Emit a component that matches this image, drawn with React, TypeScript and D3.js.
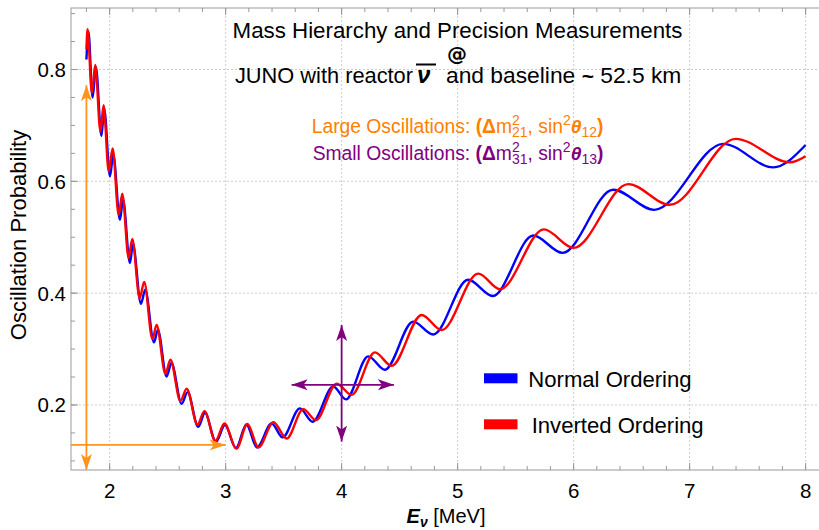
import React from 'react';
import * as d3 from 'd3';

// ---------- data ----------
// Normal Ordering: energy [MeV] and probability at extrema / key points
const NO_E = [1.80, 1.817, 1.853, 1.882, 1.929, 1.953, 2.003, 2.031, 2.089, 2.115, 2.175, 2.201, 2.270, 2.307, 2.382, 2.416, 2.491, 2.533, 2.621, 2.672, 2.764, 2.822, 2.916, 2.994, 3.089, 3.179, 3.270, 3.397, 3.491, 3.640, 3.750, 3.928, 4.037, 4.229, 4.373, 4.617, 4.790, 5.091, 5.302, 5.652, 5.905, 6.341, 6.695, 7.290, 7.721, 8.0];
const NO_P = [0.818, 0.868, 0.750, 0.804, 0.681, 0.730, 0.609, 0.648, 0.531, 0.568, 0.454, 0.487, 0.381, 0.406, 0.312, 0.334, 0.251, 0.275, 0.202, 0.223, 0.161, 0.186, 0.134, 0.164, 0.123, 0.165, 0.124, 0.167, 0.142, 0.194, 0.170, 0.233, 0.210, 0.287, 0.263, 0.349, 0.326, 0.424, 0.395, 0.503, 0.472, 0.585, 0.549, 0.667, 0.625, 0.665];
// Inverted Ordering
const IO_E = [1.80, 1.810, 1.847, 1.876, 1.921, 1.948, 1.992, 2.026, 2.078, 2.109, 2.164, 2.195, 2.259, 2.298, 2.369, 2.405, 2.481, 2.524, 2.610, 2.664, 2.757, 2.817, 2.912, 2.990, 3.093, 3.188, 3.283, 3.412, 3.526, 3.669, 3.778, 3.957, 4.086, 4.287, 4.431, 4.690, 4.862, 5.178, 5.365, 5.744, 5.998, 6.471, 6.830, 7.397, 7.865, 8.0];
const IO_P = [0.836, 0.872, 0.758, 0.808, 0.689, 0.736, 0.618, 0.659, 0.540, 0.578, 0.463, 0.497, 0.391, 0.420, 0.318, 0.343, 0.256, 0.281, 0.207, 0.229, 0.165, 0.189, 0.136, 0.167, 0.122, 0.166, 0.124, 0.169, 0.140, 0.1925, 0.173, 0.238, 0.218, 0.294, 0.270, 0.361, 0.334, 0.435, 0.407, 0.514, 0.481, 0.595, 0.558, 0.676, 0.634, 0.645];

const X_TICKS = [2, 3, 4, 5, 6, 7, 8];
const Y_TICKS = [0.2, 0.4, 0.6, 0.8];
const X_MINOR = d3.range(1.8, 8.05, 0.2);
const Y_MINOR = d3.range(0.1, 0.91, 0.05);
const SERIES_NAMES = ['Normal Ordering', 'Inverted Ordering'];
const SERIES_COLORS = ['#0000FF', '#FF0000'];

// annotation anchors (data units)
const LARGE_ARROW_V = { e: 1.8, p0: 0.0837, p1: 0.772 };
const LARGE_ARROW_H = { e0: 1.667, e1: 3.0, p: 0.1286 };
const SMALL_CROSS = { e: 4.0, p: 0.236, e0: 3.569, e1: 4.451, p0: 0.1345, p1: 0.343 };

const FONT = "'Liberation Sans', Arial, Helvetica, sans-serif";
const ORANGE = '#FF8000';
const ARROW_ORANGE = '#FF931E';
const PURPLE = '#800080';

function OscLabel({ x, y, color, head, sub1, sub2 }: { x: number; y: number; color: string; head: string; sub1: string; sub2: string }) {
  return (
    <text x={x} y={y} fontSize={19.3} fill={color}>
      <tspan>{head}</tspan>
      <tspan fontWeight="bold">(Δ</tspan>
      <tspan>m</tspan>
      <tspan fontSize={14} dy={-8.5}>2</tspan>
      <tspan fontSize={14} dx={-7.8} dy={12.5}>{sub1}</tspan>
      <tspan dy={-4}>, sin</tspan>
      <tspan fontSize={14} dy={-8.5}>2</tspan>
      <tspan fontWeight="bold" fontStyle="italic" dy={8.5}>θ</tspan>
      <tspan fontSize={14} dy={4}>{sub2}</tspan>
      <tspan fontWeight="bold" dy={-4}>)</tspan>
    </text>
  );
}

export default function App() {
  const W = 819, H = 530;
  const left = 71, right = 820, top = 8, bottom = 470;
  const x = d3.scaleLinear().domain([1.667, 8.124]).range([left, right]);
  const y = d3.scaleLinear().domain([0.0837, 0.910]).range([bottom, top]);
  const line = d3.line<[number, number]>().x(d => x(d[0])).y(d => y(d[1])).curve(d3.curveMonotoneX);
  const noPts = NO_E.map((e, i) => [e, NO_P[i]] as [number, number]);
  const ioPts = IO_E.map((e, i) => [e, IO_P[i]] as [number, number]);
  const frameColor = '#999999';
  const gridColor = '#cccccc';

  return (
    <div>
      <style>{`body{margin:0;}`}</style>
      <svg width={W} height={H} style={{ display: 'block', background: '#fff' }} fontFamily={FONT}>
        <defs>
          <marker id="arrO" viewBox="-16 -7 17 14" refX={0} refY={0} markerWidth={17} markerHeight={14} markerUnits="userSpaceOnUse" orient="auto-start-reverse">
            <path d="M0,0 L-16,-5.5 L-12,0 L-16,5.5 Z" fill={ARROW_ORANGE} />
          </marker>
          <marker id="arrP" viewBox="-16 -7 17 14" refX={0} refY={0} markerWidth={17} markerHeight={14} markerUnits="userSpaceOnUse" orient="auto-start-reverse">
            <path d="M0,0 L-16,-5.5 L-12,0 L-16,5.5 Z" fill={PURPLE} />
          </marker>
          <clipPath id="plotClip"><rect x={left} y={top} width={right - left} height={bottom - top} /></clipPath>
        </defs>

        {/* grid */}
        <g stroke={gridColor} strokeWidth={1} strokeDasharray="2,2">
          {X_TICKS.map(t => <line key={'gx' + t} x1={x(t)} x2={x(t)} y1={top} y2={bottom} />)}
          {Y_TICKS.map(t => <line key={'gy' + t} x1={left} x2={right} y1={y(t)} y2={y(t)} />)}
        </g>

        {/* frame & ticks */}
        <g stroke={frameColor} strokeWidth={1} fill="none">
          <rect x={left} y={top} width={right - left} height={bottom - top} />
          {X_MINOR.map(t => (
            <g key={'xm' + t}>
              <line x1={x(t)} x2={x(t)} y1={bottom} y2={bottom - 4} />
              <line x1={x(t)} x2={x(t)} y1={top} y2={top + 4} />
            </g>
          ))}
          {X_TICKS.map(t => (
            <g key={'xt' + t}>
              <line x1={x(t)} x2={x(t)} y1={bottom} y2={bottom - 7} />
              <line x1={x(t)} x2={x(t)} y1={top} y2={top + 7} />
            </g>
          ))}
          {Y_MINOR.map(t => <line key={'ym' + t} x1={left} x2={left + 4} y1={y(t)} y2={y(t)} />)}
          {Y_TICKS.map(t => <line key={'yt' + t} x1={left} x2={left + 7} y1={y(t)} y2={y(t)} />)}
        </g>

        {/* tick labels */}
        <g fontSize={20.5} fill="#000">
          {X_TICKS.map(t => <text key={'xl' + t} x={x(t)} y={498} textAnchor="middle">{t}</text>)}
          {Y_TICKS.map(t => <text key={'yl' + t} x={left - 5} y={y(t) + 7.5} textAnchor="end">{t.toFixed(1)}</text>)}
        </g>

        {/* axis labels */}
        <text x={446} y={523} textAnchor="middle" fontSize={20} fill="#000">
          <tspan fontStyle="italic" fontWeight="bold">E</tspan>
          <tspan fontStyle="italic" fontWeight="bold" fontSize={14} dy={4}>ν</tspan>
          <tspan dy={-4}> [MeV]</tspan>
        </text>
        <text transform="translate(26,235) rotate(-90)" textAnchor="middle" fontSize={22} fill="#000">Oscillation Probability</text>

        {/* curves */}
        <g clipPath="url(#plotClip)" fill="none" strokeWidth={2.4} strokeLinejoin="round">
          <path d={line(noPts) || ''} stroke={SERIES_COLORS[0]} />
          <path d={line(ioPts) || ''} stroke={SERIES_COLORS[1]} />
        </g>

        {/* large-oscillation arrows */}
        <g stroke={ARROW_ORANGE} strokeWidth={1.8}>
          <line x1={x(LARGE_ARROW_V.e)} x2={x(LARGE_ARROW_V.e)} y1={y(LARGE_ARROW_V.p1)} y2={y(LARGE_ARROW_V.p0)} markerStart="url(#arrO)" markerEnd="url(#arrO)" />
          <line x1={x(LARGE_ARROW_H.e0)} x2={x(LARGE_ARROW_H.e1)} y1={y(LARGE_ARROW_H.p)} y2={y(LARGE_ARROW_H.p)} markerEnd="url(#arrO)" />
        </g>

        {/* small-oscillation cross */}
        <g stroke={PURPLE} strokeWidth={1.8}>
          <line x1={x(SMALL_CROSS.e)} x2={x(SMALL_CROSS.e)} y1={y(SMALL_CROSS.p1)} y2={y(SMALL_CROSS.p0)} markerStart="url(#arrP)" markerEnd="url(#arrP)" />
          <line x1={x(SMALL_CROSS.e0)} x2={x(SMALL_CROSS.e1)} y1={y(SMALL_CROSS.p)} y2={y(SMALL_CROSS.p)} markerStart="url(#arrP)" markerEnd="url(#arrP)" />
        </g>

        {/* title */}
        <text x={457.5} y={38} textAnchor="middle" fontSize={22.3} fill="#000">Mass Hierarchy and Precision Measurements</text>
        <text x={457} y={61} textAnchor="middle" fontSize={20} fontWeight="bold" fontFamily="'DejaVu Sans', sans-serif" fill="#000">@</text>
        <text x={413} y={83} textAnchor="end" fontSize={21.8} fill="#000">JUNO with reactor</text>
        <text x={417} y={83} fontSize={24} fontWeight="bold" fontStyle="italic" fill="#000">ν</text>
        <line x1={416} x2={436} y1={64.5} y2={64.5} stroke="#000" strokeWidth={2} />
        <text x={446} y={83} fontSize={22.8} fill="#000">
          <tspan>and baseline </tspan>
          <tspan fontWeight="bold" fontSize={21}>~</tspan>
          <tspan> 52.5 km</tspan>
        </text>

        {/* oscillation labels */}
        <OscLabel x={311.7} y={133} color={ORANGE} head="Large Oscillations: " sub1="21" sub2="12" />
        <OscLabel x={312.7} y={160} color={PURPLE} head="Small Oscillations: " sub1="31" sub2="13" />

        {/* legend */}
        {SERIES_NAMES.map((name, i) => (
          <g key={name}>
            <rect x={484} y={373.3 + i * 46} width={33.5} height={10} fill={SERIES_COLORS[i]} />
            <text x={528.3 + i * 3.4} y={386.7 + i * 46} fontSize={22.1} fill="#000">{name}</text>
          </g>
        ))}
      </svg>
    </div>
  );
}
